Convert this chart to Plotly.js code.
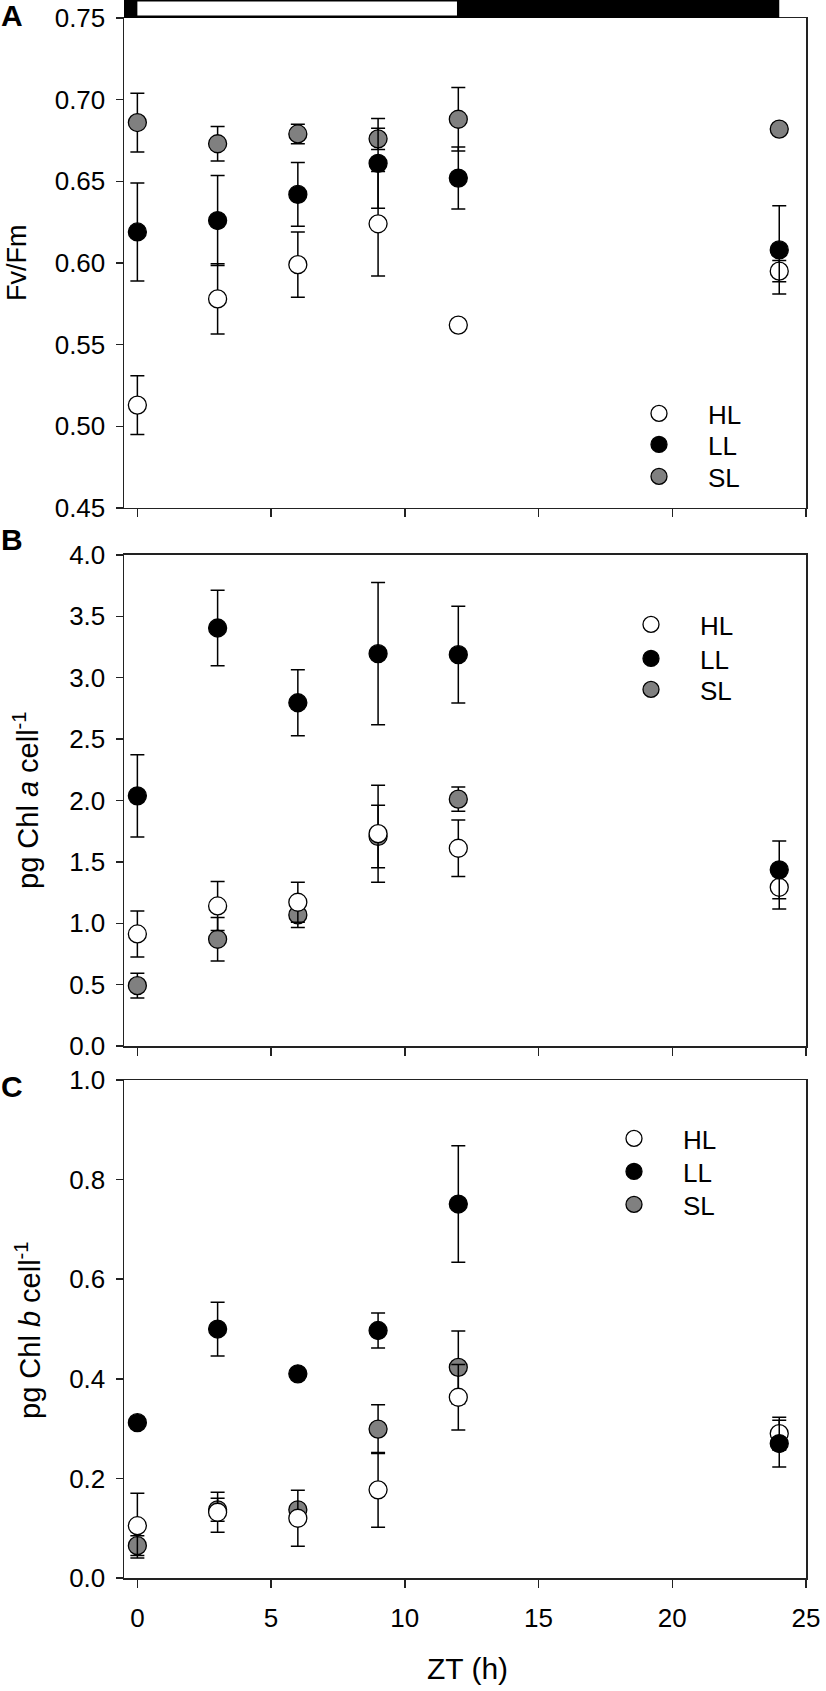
<!DOCTYPE html>
<html>
<head>
<meta charset="utf-8">
<script src="https://cdn.plot.ly/plotly-3.0.1.min.js"></script>
<style>html,body{margin:0;padding:0;background:#fff}</style>
</head>
<body>
<div id="chart" style="width:826px;height:1691px"></div>
<script>
// sampling times (h)
const zt = [0, 3, 6, 9, 12, 24];

// panel A: Fv/Fm
const fvfmHL = [0.513, 0.578, 0.599, 0.624, 0.562, 0.595];
const fvfmHLerr = [0.018, 0.0215, 0.020, 0.032, 0, 0.0065];
const fvfmLL = [0.619, 0.626, 0.642, 0.661, 0.652, 0.608];
const fvfmLLerr = [0.030, 0.0276, 0.0195, 0.0275, 0.019, 0.027];
const fvfmSL = [0.686, 0.673, 0.679, 0.676, 0.688, 0.682];
const fvfmSLerr = [0.018, 0.0105, 0.006, 0.0065, 0.0195, 0];

// panel B: pg Chl a per cell
const chlaHL = [0.913, 1.141, 1.171, 1.73, 1.611, 1.293];
const chlaHLerr = [0.187, 0.20, 0.163, 0.395, 0.231, 0.176];
const chlaLL = [2.038, 3.405, 2.796, 3.196, 3.188, 1.435];
const chlaLLerr = [0.335, 0.307, 0.268, 0.58, 0.394, 0.236];
const chlaSL = [0.492, 0.870, 1.068, 1.707, 2.011, null];
const chlaSLerr = [0.10, 0.177, 0.103, 0.255, 0.098, 0];

// panel C: pg Chl b per cell
const chlbHL = [0.105, 0.132, 0.12, 0.177, 0.363, 0.290];
const chlbHLerr = [0.065, 0.04, 0.056, 0.075, 0.066, 0.033];
const chlbLL = [0.312, 0.500, 0.41, 0.497, 0.751, 0.27];
const chlbLLerr = [0, 0.054, 0, 0.035, 0.117, 0.047];
const chlbSL = [0.065, 0.137, 0.137, 0.299, 0.423, null];
const chlbSLerr = [0.02, 0.023, 0.01, 0.049, 0.073, 0];

// light / dark periods drawn above panel A
const lightPeriod = [0, 12];
const darkPeriod = [-0.5, 24];

const FONT = '"Liberation Sans", Arial, sans-serif';
const AXC = '#222';
const fills = { HL: 'white', LL: 'black', SL: 'rgb(128,128,128)' };

// pixel helpers for placing text (plot area: 124..806 x 18..1578)
const xp = px => (px - 124) / 682;
const yp = py => (1578 - py) / 1560;

// where each legend entry sits (marker centre, px), one legend per entry
const legendSpots = {
    1: { HL: [658, 412], LL: [658, 443], SL: [658, 475] },
    2: { HL: [650, 623], LL: [650, 657], SL: [650, 688] },
    3: { HL: [633, 1137], LL: [633, 1170], SL: [633, 1203] }
};
const legendIds = {};
let nextLegend = 1;

function makeTrace(name, y, err, n) {
    const s = n === 1 ? '' : String(n);
    const id = nextLegend === 1 ? 'legend' : 'legend' + nextLegend;
    legendIds[id] = legendSpots[n][name];
    nextLegend += 1;
    return {
        x: zt,
        y: y,
        type: 'scatter',
        mode: 'markers',
        name: name,
        xaxis: 'x' + s,
        yaxis: 'y' + s,
        legend: id,
        marker: { size: 18, color: fills[name], line: { color: 'black', width: 1.3 } },
        error_y: { type: 'data', array: err, color: 'black', thickness: 1.5, width: 7 },
        hoverinfo: 'x+y'
    };
}

// draw order: SL under HL under LL
const traces = [
    makeTrace('SL', fvfmSL, fvfmSLerr, 1),
    makeTrace('HL', fvfmHL, fvfmHLerr, 1),
    makeTrace('LL', fvfmLL, fvfmLLerr, 1),
    makeTrace('SL', chlaSL, chlaSLerr, 2),
    makeTrace('HL', chlaHL, chlaHLerr, 2),
    makeTrace('LL', chlaLL, chlaLLerr, 2),
    makeTrace('SL', chlbSL, chlbSLerr, 3),
    makeTrace('HL', chlbHL, chlbHLerr, 3),
    makeTrace('LL', chlbLL, chlbLLerr, 3)
];

function xAxis(anchor, labels) {
    return {
        anchor: anchor,
        domain: [0, 1],
        range: [-0.5, 25],
        tick0: 0,
        dtick: 5,
        ticks: 'outside',
        ticklen: 8,
        tickwidth: 1.5,
        tickcolor: AXC,
        showline: true,
        linecolor: AXC,
        linewidth: 1.5,
        mirror: true,
        showgrid: false,
        zeroline: false,
        showticklabels: labels,
        ticklabelstandoff: 8,
        tickfont: { size: 26, color: 'black' }
    };
}

function yAxis(anchor, domain, range, dtick, fmt) {
    return {
        anchor: anchor,
        domain: domain,
        range: range,
        dtick: dtick,
        tick0: 0,
        tickformat: fmt,
        ticks: 'outside',
        ticklen: 7,
        tickwidth: 1.5,
        tickcolor: AXC,
        showline: true,
        linecolor: AXC,
        linewidth: 1.5,
        mirror: true,
        showgrid: false,
        zeroline: false,
        ticklabelstandoff: 5,
        tickfont: { size: 26, color: 'black' }
    };
}

function legendAt(spot) {
    return {
        x: xp(spot[0] - 48),
        y: yp(spot[1] - 22),
        xanchor: 'left',
        yanchor: 'top',
        bgcolor: 'rgba(0,0,0,0)',
        borderwidth: 0,
        itemwidth: 88,
        font: { size: 26, color: 'black', family: FONT }
    };
}

function ann(text, px, py, size, angle) {
    return {
        text: text,
        xref: 'paper',
        yref: 'paper',
        x: xp(px),
        y: yp(py),
        xanchor: 'center',
        yanchor: 'middle',
        showarrow: false,
        textangle: angle || 0,
        font: { size: size, color: 'black', family: FONT }
    };
}

const layout = {
    width: 826,
    height: 1691,
    margin: { l: 124, r: 20, t: 18, b: 113 },
    paper_bgcolor: 'white',
    plot_bgcolor: 'white',
    font: { family: FONT, color: 'black' },
    showlegend: true,
    xaxis: xAxis('y', false),
    xaxis2: xAxis('y2', false),
    xaxis3: xAxis('y3', true),
    yaxis: yAxis('x', [0.6859, 1], [0.45, 0.75], 0.05, '.2f'),
    yaxis2: yAxis('x2', [0.341, 0.6558], [0, 4], 0.5, '.1f'),
    yaxis3: yAxis('x3', [0, 0.3192], [0, 1], 0.2, '.1f'),
    shapes: [
        {
            type: 'rect', xref: 'x', yref: 'paper',
            x0: darkPeriod[0], x1: darkPeriod[1],
            y0: 1, y1: 1 + 18 / 1560,
            fillcolor: 'black', line: { width: 0 }, layer: 'above'
        },
        {
            type: 'rect', xref: 'x', yref: 'paper',
            x0: lightPeriod[0], x1: lightPeriod[1] - 0.05,
            y0: 1 + 2.5 / 1560, y1: 1 + 16.5 / 1560,
            fillcolor: 'white', line: { width: 0 }, layer: 'above'
        }
    ],
    annotations: [
        ann('<b>A</b>', 12, 15, 30),
        ann('<b>B</b>', 12, 539, 30),
        ann('<b>C</b>', 12, 1086, 30),
        ann('Fv/Fm', 17, 263, 27, -90),
        ann('pg Chl <i>a</i> cell<sup>-1</sup>', 26, 800, 29, -90),
        ann('pg Chl <i>b</i> cell<sup>-1</sup>', 28, 1330, 29, -90),
        ann('ZT (h)', 467, 1668, 30)
    ]
};

Object.keys(legendIds).forEach(id => {
    layout[id] = legendAt(legendIds[id]);
});

Plotly.newPlot('chart', traces, layout, { displayModeBar: false, staticPlot: true });
</script>
</body>
</html>
